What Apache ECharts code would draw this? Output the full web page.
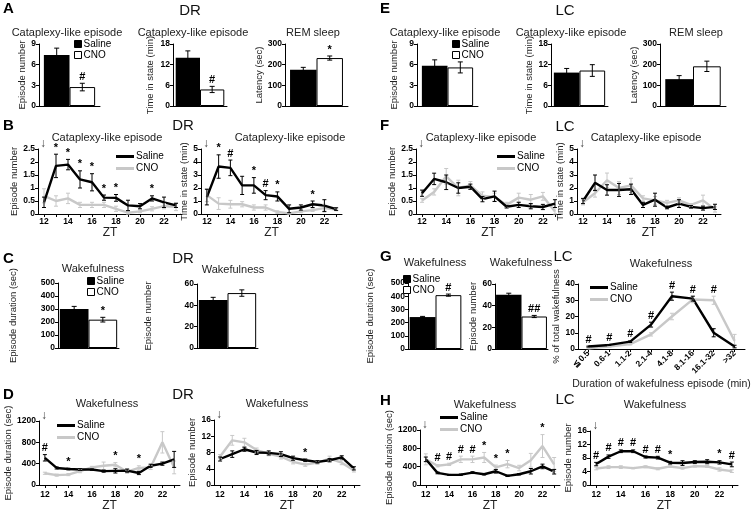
<!DOCTYPE html>
<html><head><meta charset="utf-8">
<script src="https://cdn.jsdelivr.net/npm/echarts@6/dist/echarts.min.js"></script>
<style>html,body{margin:0;padding:0;background:#fff}#c{width:756px;height:513px}</style>
</head><body><div id="c"></div>
<script>
// ---------------- DATA ----------------
const groups = ['Saline', 'CNO'];
const ztHours = ['12','13','14','15','16','17','18','19','20','21','22','23'];
const durationBins = ['≦0.5','0.6-1','1.1-2','2.1-4','4.1-8','8.1-16','16.1-32','>32'];

// A (DR) bars: [Saline, CNO]
const aCataNum = [7.4, 2.75], aCataNumErr = [1.0, 0.55], aCataNumMarks = ['', '#'];
const aCataTime = [14.0, 4.8], aCataTimeErr = [2.0, 0.9], aCataTimeMarks = ['', '#'];
const aRemLat = [175, 232], aRemLatErr = [12, 10], aRemLatMarks = ['', '*'];
// E (LC) bars
const eCataNum = [5.85, 5.6], eCataNumErr = [0.85, 0.8];
const eCataTime = [9.7, 10.3], eCataTimeErr = [1.2, 1.7];
const eRemLat = [130, 192], eRemLatErr = [17, 25];
// C (DR) bars
const cWakeDur = [300, 218], cWakeDurErr = [20, 18], cWakeDurMarks = ['', '*'];
const cWakeNum = [45, 51.5], cWakeNumErr = [2.5, 3];
// G (LC) bars + distribution
const gWakeDur = [242, 408], gWakeDurErr = [5, 8], gWakeDurMarks = ['', '#'];
const gWakeNum = [50, 30], gWakeNumErr = [1.5, 1], gWakeNumMarks = ['', '##'];
const gDistSaline = [1.5, 2.5, 4.5, 15, 32.5, 31, 10, 1.5];
const gDistSalineErr = [0.3, 0.3, 0.5, 1.5, 2.5, 1.5, 2.5, 0.8];
const gDistCNO = [0.5, 1.5, 3, 9, 20, 30.5, 30, 5];
const gDistCNOErr = [0.3, 0.3, 0.5, 1, 2, 2, 2.5, 4];
const gDistMarks = ['#','#','#','#','#','#','#',''];

// B (DR) hourly cataplexy
const bNumSaline = [0.45,1.85,1.9,1.33,1.22,0.63,0.62,0.33,0.3,0.6,0.45,0.33];
const bNumSalineErr = [0.2,0.45,0.2,0.33,0.33,0.1,0.13,0.2,0.1,0.1,0.2,0.08];
const bNumCNO = [0.7,0.5,0.6,0.35,0.35,0.35,0.2,0.05,0.1,0.2,0.3,0.28];
const bNumCNOErr = [0.27,0.2,0.2,0.1,0.1,0.1,0.1,0.05,0.05,0.08,0.1,0.15];
const bNumMarks = ['','*','*','*','*','*','*','','','*','',''];
const bTimeSaline = [1.3,3.65,3.55,2.2,2.2,1.45,1.35,0.4,0.5,0.75,0.65,0.38];
const bTimeSalineErr = [0.6,0.9,0.6,0.7,0.6,0.35,0.35,0.3,0.2,0.25,0.45,0.1];
const bTimeCNO = [1.45,0.8,0.75,0.75,0.5,0.5,0.15,0.05,0.2,0.3,0.45,0.35];
const bTimeCNOErr = [0.5,0.45,0.3,0.2,0.2,0.2,0.1,0.05,0.1,0.1,0.3,0.1];
const bTimeMarks = ['','*','#','','*','#','*','','','*','',''];
// F (LC) hourly cataplexy
const fNumSaline = [0.8,1.35,1.22,1.0,1.05,0.57,0.68,0.28,0.35,0.3,0.27,0.4];
const fNumSalineErr = [0.12,0.22,0.28,0.2,0.1,0.1,0.2,0.05,0.1,0.1,0.1,0.15];
const fNumCNO = [0.52,0.85,1.45,1.0,1.1,0.7,0.65,0.35,0.63,0.55,0.68,0.1];
const fNumCNOErr = [0.07,0.12,0.3,0.3,0.15,0.15,0.15,0.1,0.17,0.2,0.15,0.15];
const fTimeSaline = [1.0,2.4,1.85,1.85,1.9,0.7,1.1,0.5,0.8,0.55,0.45,0.55];
const fTimeSalineErr = [0.2,0.6,0.4,0.5,0.4,0.2,0.5,0.1,0.3,0.1,0.15,0.2];
const fTimeCNO = [0.9,1.6,2.6,2.0,2.2,1.2,1.05,0.85,1.05,0.7,1.05,0.35];
const fTimeCNOErr = [0.2,0.3,0.55,0.5,0.55,0.2,0.3,0.2,0.2,0.1,0.4,0.2];
// D (DR) hourly wakefulness
const dDurSaline = [510,320,300,290,290,260,265,270,225,360,400,480];
const dDurSalineErr = [60,20,15,15,15,20,40,30,30,30,30,150];
const dDurCNO = [220,185,195,260,330,360,380,250,320,330,800,330];
const dDurCNOErr = [20,20,20,30,20,70,40,30,40,40,200,120];
const dDurMarks = ['#','','*','','','','*','','*','','',''];
const dNumSaline = [6.4,7.6,8.8,8.0,7.9,7.6,6.6,6.1,5.7,6.1,6.8,4.1];
const dNumSalineErr = [0.5,0.8,0.5,0.5,0.5,0.6,0.5,0.3,0.3,0.4,0.4,0.4];
const dNumCNO = [7.0,11.0,10.5,8.6,7.7,7.0,5.7,5.0,5.5,6.5,5.5,3.6];
const dNumCNOErr = [0.5,1.2,1.0,0.5,0.5,0.6,0.5,0.4,0.4,0.6,0.5,0.4];
const dNumMarks = ['','','','','','','','*','','','',''];
// H (LC) hourly wakefulness
const hDurSaline = [560,265,220,225,270,235,300,200,235,300,405,290];
const hDurSalineErr = [50,20,10,15,20,15,40,15,15,60,50,50];
const hDurCNO = [560,420,450,560,560,600,385,455,370,540,850,450];
const hDurCNOErr = [120,25,25,70,70,110,50,80,60,150,250,150];
const hDurMarks = ['','#','#','#','#','*','*','*','','','*',''];
const hNumSaline = [6.2,8.4,10.0,10.0,8.3,8.1,6.6,6.5,6.8,6.9,6.7,6.1];
const hNumSalineErr = [0.5,0.5,0.4,0.4,0.3,0.4,0.4,0.7,0.4,0.6,0.5,0.7];
const hNumCNO = [4.9,5.3,5.3,5.0,5.4,4.8,5.5,5.0,5.6,5.5,4.6,4.1];
const hNumCNOErr = [0.4,0.4,0.4,0.2,0.3,0.3,0.3,0.3,0.3,0.3,0.5,0.4];
const hNumMarks = ['#','#','#','#','#','#','*','','','','*','#'];

// ---------------- BUILD ----------------
const F = "'Liberation Sans', Arial, Helvetica, sans-serif";
const GRAY = '#c8c8c8';
const option = {animation:false, backgroundColor:'#fff', graphic:[], grid:[], xAxis:[], yAxis:[], series:[], legend:[]};

function txt(t, x, y, size, weight, color) {
  option.graphic.push({type:'text', x:x, y:y, silent:true,
    style:{text:t, font:(weight||'normal')+' '+size+'px '+F, fill:color||'#000', textAlign:'center', textVerticalAlign:'top'}});
}
function addGrid(b){ option.grid.push({left:b[0], top:b[1], width:b[2], height:b[3]}); return option.grid.length-1; }
function yAx(g, max, interval, name, nameGap){
  return {type:'value', gridIndex:g, min:0, max:max, interval:interval, name:name, nameLocation:'middle', nameGap:nameGap,
    nameTextStyle:{fontFamily:F, fontSize:9.5, color:'#222'},
    axisLine:{show:true, lineStyle:{color:'#000', width:1}},
    axisTick:{show:true, length:3, lineStyle:{color:'#000'}},
    axisLabel:{fontFamily:F, fontSize:8.5, fontWeight:'bold', color:'#000', margin:3, formatter: v => String(v)},
    splitLine:{show:false}};
}
function errRenderer(vals, errs, colors, offs, cap){
  return function(params, api){
    const i = params.dataIndex;
    const v = vals[i], e = errs[i];
    const p1 = api.coord([api.value(0), v + e]);
    const p2 = api.coord([api.value(0), Math.max(v - e, 0)]);
    const x = p1[0] + (offs ? offs[i] : 0);
    const st = {stroke: colors[i] || colors[0], lineWidth: 1};
    return {type:'group', children:[
      {type:'line', shape:{x1:x, y1:p1[1], x2:x, y2:p2[1]}, style:st},
      {type:'line', shape:{x1:x-cap, y1:p1[1], x2:x+cap, y2:p1[1]}, style:st},
      {type:'line', shape:{x1:x-cap, y1:p2[1], x2:x+cap, y2:p2[1]}, style:st}]};
  };
}
function markRenderer(marks, tops, offs){
  return function(params, api){
    const i = params.dataIndex;
    if (!marks[i]) return null;
    const p = api.coord([api.value(0), tops[i]]);
    return {type:'text', style:{text:marks[i], x:p[0] + (offs ? offs[i] : 0), y:p[1]-1,
      textAlign:'center', textVerticalAlign:'bottom', font:'bold 11px '+F, fill:'#000'}};
  };
}
function barPanel(b, vals, errs, marks, yMax, yInt, yName, nameGap, frac){
  const g = addGrid(b);
  option.xAxis.push({type:'category', gridIndex:g, data:[''], axisLine:{lineStyle:{color:'#000'}}, axisTick:{show:false}, axisLabel:{show:false}});
  option.yAxis.push(yAx(g, yMax, yInt, yName, nameGap));
  const w = b[2]*frac;
  option.series.push({type:'bar', name:groups[0], xAxisIndex:g, yAxisIndex:g, data:[vals[0]], barWidth:w, barGap:'0%', itemStyle:{color:'#000'}});
  option.series.push({type:'bar', name:groups[1], xAxisIndex:g, yAxisIndex:g, data:[vals[1]], barWidth:w, barGap:'0%', itemStyle:{color:'#fff', borderColor:'#000', borderWidth:1}});
  const offs = [-w/2, w/2];
  option.series.push({type:'custom', xAxisIndex:g, yAxisIndex:g, data:vals.map(v=>[0,v]), clip:false, z:5,
    renderItem: errRenderer(vals, errs, ['#000','#000'], offs, 2.5)});
  if (marks){
    const tops = vals.map((v,i)=>v+errs[i]);
    option.series.push({type:'custom', xAxisIndex:g, yAxisIndex:g, data:vals.map((v,i)=>[0,tops[i]]), clip:false, z:6,
      renderItem: markRenderer(marks, tops, offs)});
  }
}
function linePanel(b, cats, sal, salE, cno, cnoE, marks, yMax, yInt, yName, nameGap, xo){
  const g = addGrid(b);
  option.xAxis.push({type:'category', gridIndex:g, data:cats, boundaryGap:true,
    name:xo.name, nameLocation:'middle', nameGap:xo.nameGap, nameTextStyle:{fontFamily:F, fontSize:xo.nameSize||12, color:'#222'},
    axisLine:{lineStyle:{color:'#000', width:1}},
    axisTick:{show:true, alignWithLabel:true, interval:0, length:3, lineStyle:{color:'#000'}},
    axisLabel:{interval:xo.labelInterval, rotate:xo.rotate||0, fontFamily:F, fontSize:8.5, fontWeight:'bold', color:'#000', margin:xo.margin||3}});
  option.yAxis.push(yAx(g, yMax, yInt, yName, nameGap));
  option.series.push({type:'line', name:groups[1], xAxisIndex:g, yAxisIndex:g, data:cno, symbol:'none', lineStyle:{color:GRAY, width:2.4}, itemStyle:{color:GRAY}, z:2});
  option.series.push({type:'line', name:groups[0], xAxisIndex:g, yAxisIndex:g, data:sal, symbol:'none', lineStyle:{color:'#000', width:2.4}, itemStyle:{color:'#000'}, z:3});
  option.series.push({type:'custom', xAxisIndex:g, yAxisIndex:g, data:cno.map((v,i)=>[i,v]), clip:false, z:4,
    renderItem: errRenderer(cno, cnoE, [GRAY], null, 2)});
  option.series.push({type:'custom', xAxisIndex:g, yAxisIndex:g, data:sal.map((v,i)=>[i,v]), clip:false, z:5,
    renderItem: errRenderer(sal, salE, ['#000'], null, 2)});
  if (marks){
    const tops = sal.map((v,i)=>Math.max(v+salE[i], cno[i]+cnoE[i]));
    option.series.push({type:'custom', xAxisIndex:g, yAxisIndex:g, data:tops.map((t,i)=>[i,t]), clip:false, z:6,
      renderItem: markRenderer(marks, tops, null)});
  }
  if (xo.arrow){
    option.series.push({type:'custom', xAxisIndex:g, yAxisIndex:g, data:[[0,yMax]], clip:false, z:6,
      renderItem: function(params, api){ const p = api.coord([0, yMax]);
        return {type:'text', style:{text:'↓', x:p[0]-1, y:p[1]+1, textAlign:'center', textVerticalAlign:'bottom', font:'12px '+F, fill:'#444'}}; }});
  }
}
function legend(left, top, kind){
  const bar = kind === 'bar';
  option.legend.push({left:left, top:top, orient:'vertical', padding:0, itemGap:bar?1:1,
    itemWidth:bar?7:18, itemHeight:bar?7:3, selectedMode:false,
    textStyle:{fontFamily:F, fontSize:10, color:'#000', lineHeight:bar?9:11, padding:[0,0,0,-3]},
    data: bar ? [{name:groups[0], icon:'rect', itemStyle:{color:'#000', borderColor:'#000', borderWidth:1}},
                 {name:groups[1], icon:'rect', itemStyle:{color:'#fff', borderColor:'#000', borderWidth:1}}]
              : [{name:groups[0], icon:'rect', itemStyle:{color:'#000', borderWidth:0}},
                 {name:groups[1], icon:'rect', itemStyle:{color:GRAY, borderWidth:0}}]});
}

// ---- Panel A / E
barPanel([39,44,61,62], aCataNum, aCataNumErr, aCataNumMarks, 9, 3, 'Episode number', 12, 0.42);
barPanel([173,44,54,62], aCataTime, aCataTimeErr, aCataTimeMarks, 18, 6, 'Time in state (min)', 18, 0.45);
barPanel([285,44,63,62], aRemLat, aRemLatErr, aRemLatMarks, 300, 100, 'Latency (sec)', 16, 0.42);
barPanel([417,44,61,62], eCataNum, eCataNumErr, null, 9, 3, 'Episode number', 18, 0.42);
barPanel([551,44,57,62], eCataTime, eCataTimeErr, null, 18, 6, 'Time in state (min)', 17, 0.45);
barPanel([660,44,66,62], eRemLat, eRemLatErr, null, 300, 100, 'Latency (sec)', 20, 0.42);
// ---- Panel C / G bars
barPanel([58,283,61,65], cWakeDur, cWakeDurErr, cWakeDurMarks, 500, 100, 'Episode duration (sec)', 40, 0.47);
barPanel([197,284,61,64], cWakeNum, cWakeNumErr, null, 60, 20, 'Episode number', 44, 0.47);
barPanel([408,283,55,66], gWakeDur, gWakeDurErr, gWakeDurMarks, 500, 100, 'Episode duration (sec)', 33, 0.47);
barPanel([495,284,53,65], gWakeNum, gWakeNumErr, gWakeNumMarks, 60, 20, 'Episode number', 14, 0.48);
// ---- Panel B / F
const zt = {name:'ZT', nameGap:9, labelInterval:1, arrow:true};
linePanel([38,149,144,65], ztHours, bNumSaline, bNumSalineErr, bNumCNO, bNumCNOErr, bNumMarks, 2.5, 0.5, 'Episode number', 19, zt);
linePanel([201,149,141,65], ztHours, bTimeSaline, bTimeSalineErr, bTimeCNO, bTimeCNOErr, bTimeMarks, 5, 1, 'Time in state (min)', 12, zt);
linePanel([416,149,145,65], ztHours, fNumSaline, fNumSalineErr, fNumCNO, fNumCNOErr, null, 2.5, 0.5, 'Episode number', 19, zt);
linePanel([577,149,144,65], ztHours, fTimeSaline, fTimeSalineErr, fTimeCNO, fTimeCNOErr, null, 5, 1, 'Time in state (min)', 12, zt);
// ---- Panel G distribution
linePanel([578,284,167,65], durationBins, gDistSaline, gDistSalineErr, gDistCNO, gDistCNOErr, gDistMarks, 40, 10, '% of total wakefulness', 13,
  {name:'Duration of wakefulness episode (min)', nameGap:30, nameSize:10.5, labelInterval:0, rotate:45, margin:3});
// ---- Panel D / H
const zt2 = {name:'ZT', nameGap:15, labelInterval:1, arrow:true, margin:5};
linePanel([39,421,141,68], ztHours, dDurSaline, dDurSalineErr, dDurCNO, dDurCNOErr, dDurMarks, 1200, 400, 'Episode duration (sec)', 22, zt2);
linePanel([214,420,146,68], ztHours, dNumSaline, dNumSalineErr, dNumCNO, dNumCNOErr, dNumMarks, 16, 4, 'Episode number', 12, zt2);
linePanel([420,430,140,61], ztHours, hDurSaline, hDurSalineErr, hDurCNO, hDurCNOErr, hDurMarks, 1200, 400, 'Episode duration (sec)', 24, zt2);
linePanel([590,431,148,59], ztHours, hNumSaline, hNumSalineErr, hNumCNO, hNumCNOErr, hNumMarks, 16, 4, 'Episode number', 12, zt2);

// ---- Legends
legend(74, 39, 'bar'); legend(452, 39, 'bar'); legend(87, 276, 'bar'); legend(403, 274, 'bar');
legend(116, 151, 'line'); legend(497, 151, 'line'); legend(57, 420, 'line'); legend(440, 412, 'line'); legend(590, 282, 'line');

// ---- Text: panel letters, group labels, titles
[['A',3,1],['E',380,1],['B',3,118],['F',380,118],['C',3,251],['G',380,249],['D',3,387],['H',380,393]]
  .forEach(a => option.graphic.push({type:'text', x:a[1], y:a[2], silent:true, style:{text:a[0], font:'bold 15px '+F, fill:'#000', textAlign:'left', textVerticalAlign:'top'}}));
[['DR',190,3],['LC',565,3],['DR',183,118],['LC',565,119],['DR',183,251],['LC',563,249],['DR',183,387],['LC',565,392]]
  .forEach(a => txt(a[0], a[1], a[2], 15, 'normal', '#111'));
const CLE = 'Cataplexy-like episode', WK = 'Wakefulness', REM = 'REM sleep';
[[CLE,67,27],[CLE,193,27],[REM,313,27],[CLE,445,27],[CLE,571,27],[REM,696,27],
 [CLE,107,132],[CLE,290,132],[CLE,481,132],[CLE,646,132],
 [WK,93,263],[WK,233,264],[WK,435,257],[WK,521,257],[WK,661,258],
 [WK,107,398],[WK,277,398],[WK,485,399],[WK,655,399]].forEach(a => txt(a[0], a[1], a[2], 11, 'normal', '#222'));

const chart = echarts.init(document.getElementById('c'), null, {renderer:'canvas'});
chart.setOption(option);
</script></body></html>
